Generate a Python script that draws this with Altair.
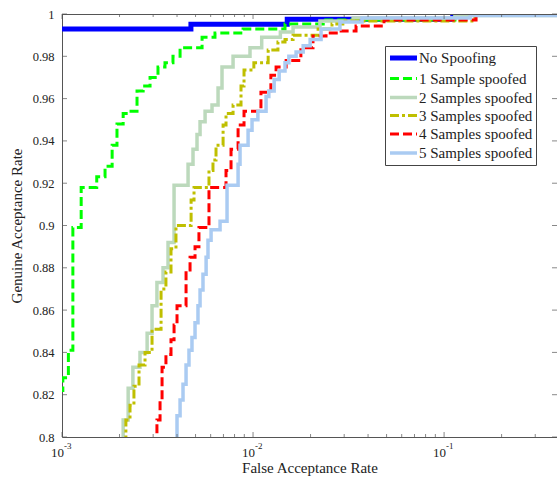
import altair as alt
import pandas as pd

FONT = "Liberation Serif"
TEXT_COLOR = "#222222"
AXIS_GRAY = "#555555"

W, H = 495, 423
FAR_MAX = 0.39

SERIES = ["No Spoofing", "1 Sample spoofed", "2 Samples spoofed",
          "3 Samples spoofed", "4 Samples spoofed", "5 Samples spoofed"]
COLORS = ["#0000ff", "#00ff00", "#bcd9bc", "#bfbf00", "#ff0000", "#aacbf2"]
DASHES = [[1, 0], [9, 4], [1, 0], [9, 3, 3, 3], [9, 4], [1, 0]]
WIDTHS = [5, 3, 3.5, 3, 3, 3.5]

# Each point is the FAR at which the ROC curve steps up to the given GAR
far_0 = [0.001, 0.00473, 0.0151, 0.111, FAR_MAX]
gar_0 = [0.9929, 0.9951, 0.9975, 1.0, 1.0]

far_1 = [0.00095, 0.00101, 0.00108, 0.00114, 0.00126, 0.00152, 0.00168, 0.00183,
         0.00194, 0.00209, 0.00222, 0.00247, 0.00266, 0.00289, 0.00318, 0.00346,
         0.00381, 0.00415, 0.00541, 0.00632, 0.00887, 0.0147, 0.0233, 0.114, FAR_MAX]
gar_1 = [0.822, 0.828, 0.841, 0.899, 0.918, 0.923, 0.928, 0.938,
         0.948, 0.953, 0.954, 0.9636, 0.966, 0.970, 0.975, 0.977,
         0.980, 0.984, 0.989, 0.991, 0.9929, 0.9953, 0.9972, 1.0, 1.0]

far_2 = [0.00205, 0.00209, 0.00222, 0.00235, 0.00256, 0.00279, 0.00296, 0.00314,
         0.00338, 0.00359, 0.00386, 0.00457, 0.00485, 0.00509, 0.00528, 0.00561,
         0.0061, 0.00656, 0.00688, 0.00786, 0.00964, 0.0111, 0.0139, 0.0162,
         0.0224, 0.0334, 0.114, FAR_MAX]
gar_2 = [0.79, 0.808, 0.823, 0.833, 0.840, 0.849, 0.862, 0.873,
         0.880, 0.892, 0.919, 0.929, 0.936, 0.943, 0.949, 0.954,
         0.957, 0.965, 0.975, 0.980, 0.984, 0.989, 0.9915, 0.9939,
         0.9967, 0.9981, 0.9993, 0.9993]

far_3 = [0.00205, 0.00216, 0.00227, 0.00238, 0.00253, 0.00272, 0.00296, 0.0033,
         0.0035, 0.00372, 0.00395, 0.00474, 0.00491, 0.00588, 0.00617, 0.0064,
         0.00697, 0.00722, 0.00786, 0.00865, 0.00897, 0.0101, 0.012, 0.0135,
         0.0147, 0.0162, 0.0219, 0.0259, 0.0303, 0.145, FAR_MAX]
gar_3 = [0.79, 0.808, 0.815, 0.824, 0.834, 0.840, 0.851, 0.870,
         0.878, 0.889, 0.900, 0.912, 0.918, 0.926, 0.931, 0.938,
         0.9475, 0.953, 0.957, 0.966, 0.9735, 0.977, 0.983, 0.9868,
         0.988, 0.990, 0.9929, 0.9953, 0.9967, 0.9993, 0.9993]

far_4 = [0.0031, 0.00314, 0.00326, 0.00334, 0.0035, 0.00372, 0.00386, 0.004,
         0.00446, 0.00468, 0.00497, 0.00521, 0.00588, 0.00722, 0.00767, 0.00835,
         0.00897, 0.011, 0.0124, 0.0132, 0.0149, 0.0178, 0.0206, 0.0241,
         0.0279, 0.0346, 0.0485, 0.147, FAR_MAX]
gar_4 = [0.79, 0.808, 0.8175, 0.833, 0.839, 0.846, 0.853, 0.862,
         0.879, 0.885, 0.890, 0.899, 0.918, 0.926, 0.936, 0.9475,
         0.954, 0.963, 0.971, 0.975, 0.978, 0.984, 0.9896, 0.991,
         0.992, 0.9943, 0.9972, 0.9993, 0.9993]

far_5 = [0.00395, 0.004, 0.00415, 0.0043, 0.00446, 0.00462, 0.00479, 0.00497,
         0.00515, 0.00528, 0.00547, 0.00568, 0.00581, 0.00603, 0.00672, 0.00731,
         0.00835, 0.00855, 0.00942, 0.00988, 0.0106, 0.0117, 0.0121, 0.0129,
         0.0137, 0.0147, 0.0154, 0.0168, 0.0183, 0.0199, 0.0227, 0.0285,
         0.0372, 0.137, FAR_MAX]
gar_5 = [0.79, 0.810, 0.8175, 0.825, 0.834, 0.841, 0.847, 0.854,
         0.862, 0.8695, 0.877, 0.885, 0.893, 0.898, 0.902, 0.919,
         0.929, 0.938, 0.945, 0.950, 0.954, 0.961, 0.9636, 0.969,
         0.973, 0.977, 0.980, 0.982, 0.985, 0.988, 0.9929, 0.9962,
         0.9981, 0.9993, 0.9993]

FARS = [far_0, far_1, far_2, far_3, far_4, far_5]
GARS = [gar_0, gar_1, gar_2, gar_3, gar_4, gar_5]

Y_TICKS = [0.8, 0.82, 0.84, 0.86, 0.88, 0.9, 0.92, 0.94, 0.96, 0.98, 1.0]
X_MAJOR = [0.001, 0.01, 0.1]
X_EXPONENTS = ["-3", "-2", "-1"]
X_MINOR = [0.002, 0.003, 0.004, 0.005, 0.006, 0.007, 0.008, 0.009,
           0.02, 0.03, 0.04, 0.05, 0.06, 0.07, 0.08, 0.09, 0.2, 0.3]

rows = []
for name, fars, gars in zip(SERIES, FARS, GARS):
    for f, g in zip(fars, gars):
        rows.append({"series": name, "far": f, "gar": g})
curves = pd.DataFrame(rows)

x_scale = alt.Scale(type="log", domain=[0.001, FAR_MAX], nice=False)
y_scale = alt.Scale(domain=[0.8, 1.0], nice=False, zero=False)

# One axis definition per channel, shared by every layer so they merge cleanly
X_AXIS = alt.Axis(title="False Acceptance Rate", labels=False, ticks=False,
                  grid=False, values=X_MAJOR, domainColor=AXIS_GRAY,
                  titleFont=FONT, titleFontSize=15, titleFontWeight="normal",
                  titleColor=TEXT_COLOR, titlePadding=23)
Y_AXIS = alt.Axis(title="Genuine Acceptance Rate", values=Y_TICKS, format="~g",
                  ticks=False, labelPadding=8, grid=False,
                  labelFont=FONT, labelFontSize=12.5, labelColor=TEXT_COLOR,
                  domainColor=AXIS_GRAY, titleFont=FONT, titleFontSize=15,
                  titleFontWeight="normal", titleColor=TEXT_COLOR, titlePadding=8)

legend = alt.Legend(
    title=None, orient="none", legendX=323, legendY=32, direction="vertical",
    symbolType="M-2.25,0H2.25", symbolSize=144, symbolOffset=6.5,
    labelOffset=7, labelFont=FONT, labelFontSize=15, labelColor=TEXT_COLOR,
    rowPadding=2.5, padding=3.5, strokeColor="#444444", fillColor="white",
    cornerRadius=0, labelLimit=300,
)

lines = alt.Chart(curves).mark_line(interpolate="step-after", clip=True).encode(
    x=alt.X("far:Q", scale=x_scale, axis=X_AXIS),
    y=alt.Y("gar:Q", scale=y_scale, axis=Y_AXIS),
    color=alt.Color("series:N", scale=alt.Scale(domain=SERIES, range=COLORS), legend=legend),
    strokeDash=alt.StrokeDash("series:N", scale=alt.Scale(domain=SERIES, range=DASHES), legend=legend),
    strokeWidth=alt.StrokeWidth("series:N", scale=alt.Scale(type="ordinal", domain=SERIES, range=WIDTHS), legend=legend),
)

# Inward tick marks on all four sides of the frame
ytk = pd.DataFrame({"v": Y_TICKS})
y_enc = alt.Y("v:Q", scale=y_scale, axis=Y_AXIS)
ytick_left = alt.Chart(ytk).mark_tick(orient="horizontal", size=5, thickness=1,
                                      color=AXIS_GRAY).encode(y=y_enc, x=alt.value(2.5))
ytick_right = alt.Chart(ytk).mark_tick(orient="horizontal", size=5, thickness=1,
                                       color=AXIS_GRAY).encode(y=y_enc, x=alt.value(W - 2.5))

xmaj = pd.DataFrame({"v": X_MAJOR, "exp": X_EXPONENTS})
xmin = pd.DataFrame({"v": X_MINOR})
x_enc = alt.X("v:Q", scale=x_scale, axis=X_AXIS)
xtick_major_bottom = alt.Chart(xmaj).mark_tick(orient="vertical", size=5, thickness=1,
                                               color=AXIS_GRAY).encode(x=x_enc, y=alt.value(H - 2.5))
xtick_major_top = alt.Chart(xmaj).mark_tick(orient="vertical", size=5, thickness=1,
                                            color=AXIS_GRAY).encode(x=x_enc, y=alt.value(2.5))
xtick_minor_bottom = alt.Chart(xmin).mark_tick(orient="vertical", size=3, thickness=1,
                                               color=AXIS_GRAY).encode(x=x_enc, y=alt.value(H - 1.5))
xtick_minor_top = alt.Chart(xmin).mark_tick(orient="vertical", size=3, thickness=1,
                                            color=AXIS_GRAY).encode(x=x_enc, y=alt.value(1.5))

top_border = alt.Chart(pd.DataFrame({"v": [0]})).mark_rule(
    color=AXIS_GRAY, strokeWidth=1).encode(x=alt.value(0), x2=alt.value(W), y=alt.value(0.5))

# Decade labels written as 10 with a raised exponent
mantissa = alt.Chart(xmaj).mark_text(align="right", baseline="alphabetic", dx=2,
                                     font=FONT, fontSize=13, color=TEXT_COLOR).encode(
    x=x_enc, y=alt.value(H + 20), text=alt.value("10"))
exponent = alt.Chart(xmaj).mark_text(align="left", baseline="alphabetic", dx=2,
                                     font=FONT, fontSize=9, color=TEXT_COLOR).encode(
    x=x_enc, y=alt.value(H + 12), text="exp:N")

chart = alt.layer(
    lines, ytick_left, ytick_right, xtick_major_bottom, xtick_major_top,
    xtick_minor_bottom, xtick_minor_top, top_border, mantissa, exponent,
).properties(
    width=W, height=H,
    autosize=alt.AutoSizeParams(type="none"),
    padding={"left": 62, "top": 14, "right": 0, "bottom": 46},
    background="white",
).configure_view(stroke=None)

chart.save("out.html", embed_options={"renderer": "svg", "actions": False})
